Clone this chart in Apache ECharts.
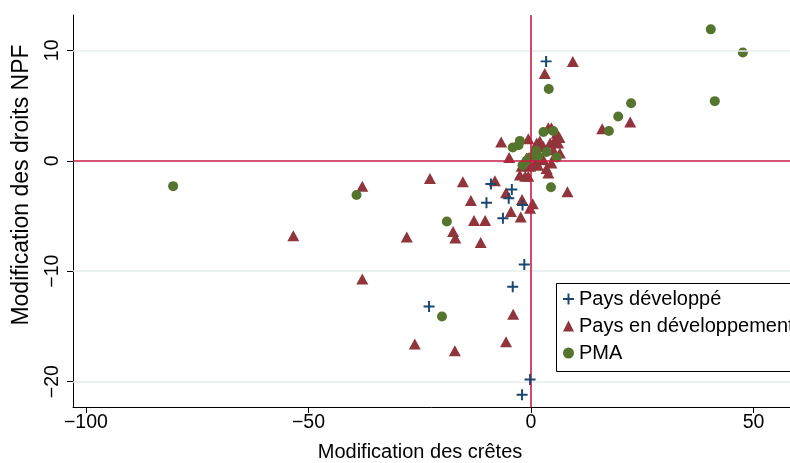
<!DOCTYPE html>
<html>
<head>
<meta charset="utf-8">
<script src="https://cdn.jsdelivr.net/npm/echarts@6/dist/echarts.min.js"></script>
<style>
html,body{margin:0;padding:0;background:#fff;}
#chart{width:790px;height:463px;}
</style>
</head>
<body>
<div id="chart"></div>
<script>
// ---- Data ----
const seriesNames = ['Pays développé', 'Pays en développement', 'PMA'];

const paysDeveloppe = [
  [3.4, 9.0], [-9.0, -2.1], [-4.3, -2.6], [-5.0, -3.4], [-10.0, -3.8], [-1.9, -4.0],
  [-6.3, -5.2], [-1.5, -9.4], [-4.1, -11.4], [-22.9, -13.2], [-0.2, -19.8], [-2.0, -21.2]
];

const paysEnDeveloppement = [
  [9.4, 9.0], [3.1, 7.9], [22.3, 3.5], [16.0, 2.9], [8.2, -2.8],
  [-37.9, -2.3], [-53.4, -6.8], [-37.9, -10.7],
  [-22.7, -1.6], [-15.3, -1.9], [-8.1, -1.8], [-5.6, -2.9], [-13.5, -3.6], [-2.0, -3.5],
  [0.4, -3.9], [-0.2, -4.3], [-4.5, -4.6], [-2.3, -5.1], [-12.8, -5.4], [-10.3, -5.4],
  [-17.5, -6.4], [-17.0, -7.0], [-27.9, -6.9], [-11.3, -7.4],
  [-4.0, -13.9], [-26.1, -16.6], [-5.6, -16.4], [-17.1, -17.2],
  [-1.3, -1.4], [-6.7, 1.7], [-4.9, 0.3], [-0.6, 2.0],
  [2.0, 1.8], [3.9, 3.0], [4.6, 3.0], [5.4, 1.9], [6.1, 1.6], [4.3, 1.6], [2.8, 1.3],
  [1.3, 1.6], [5.0, 1.0], [-1.0, 0.25], [-2.1, -0.5], [-0.2, -0.5], [3.5, -0.7],
  [4.6, -0.2], [3.9, -1.1], [-2.5, -1.3], [-0.6, -1.4], [2.8, 0.1], [0.9, -0.2],
  [6.5, 0.7], [5.8, 2.5], [6.4, 2.1], [1.6, -0.4], [5.4, 0.5]
];

const pma = [
  [40.4, 11.9], [47.6, 9.8], [41.3, 5.4], [22.5, 5.2], [19.6, 4.0], [17.5, 2.7], [4.0, 6.5],
  [-80.4, -2.3], [-39.2, -3.1], [-18.9, -5.5], [-20.0, -14.1], [4.5, -2.4],
  [2.8, 2.6], [5.0, 2.7], [-2.5, 1.8], [-4.1, 1.2], [1.1, 0.9], [3.5, 0.8], [5.8, 0.3],
  [1.6, 0.4], [-0.2, 0.3], [-1.0, 0.0], [-1.9, -0.4], [-2.8, 1.4]
];

const xTicks = [-100, -50, 0, 50];
const yTicks = [-20, -10, 0, 10];
const yGridLines = [-20, -10, 10];
const xRange = [-102.9, 58.2];
const yRange = [-22.3, 13.2];

const xTitle = 'Modification des crêtes';
const yTitle = 'Modification des droits NPF';

// ---- Styles ----
const FONT = '"Liberation Sans", Helvetica, Arial, sans-serif';
const BLUE = '#1a476f', RED = '#90353b', GREEN = '#55752f', REF = '#c81d43';
const CROSS = 'path://M4.1,0H5.9V4.1H10V5.9H5.9V10H4.1V5.9H0V4.1H4.1Z';
const fmt = v => (v < 0 ? '\u2212' + Math.abs(v) : String(v));

const chart = echarts.init(document.getElementById('chart'), null, {renderer: 'canvas'});

chart.setOption({
  animation: false,
  backgroundColor: '#ffffff',
  textStyle: {fontFamily: FONT},
  grid: {left: 73, top: 15, right: 0, bottom: 56, containLabel: false, outerBoundsMode: 'none'},
  xAxis: {
    type: 'value', min: xRange[0], max: xRange[1],
    axisLine: {show: true, onZero: false, lineStyle: {color: '#000', width: 1}},
    axisTick: {show: true, length: 6, customValues: xTicks, lineStyle: {color: '#000'}},
    axisLabel: {show: true, customValues: xTicks, formatter: fmt, fontSize: 19.5, color: '#000', fontFamily: FONT, margin: 6},
    splitLine: {show: false}
  },
  yAxis: {
    type: 'value', min: yRange[0], max: yRange[1],
    axisLine: {show: true, onZero: false, lineStyle: {color: '#000', width: 1}},
    axisTick: {show: true, length: 6, customValues: yTicks, lineStyle: {color: '#000'}},
    axisLabel: {show: true, customValues: yTicks, formatter: fmt, rotate: 90, fontSize: 19.5, color: '#000', fontFamily: FONT, margin: 10},
    splitLine: {show: false}
  },
  legend: {
    orient: 'vertical', left: 556, top: 283, z: 20,
    data: [
      {name: seriesNames[0], icon: CROSS},
      {name: seriesNames[1], icon: 'triangle'},
      {name: seriesNames[2], icon: 'circle'}
    ],
    itemWidth: 11, itemHeight: 11, itemGap: 5,
    padding: [5, 0, 8, 7],
    borderWidth: 0,
    textStyle: {fontSize: 20, color: '#000', fontFamily: FONT, lineHeight: 22, overflow: 'none'}
  },
  graphic: [
    {type: 'rect', z: 15, shape: {x: 556.5, y: 283.5, width: 300, height: 88},
     style: {fill: '#fff', stroke: '#000', lineWidth: 1}},
    {type: 'text', x: 420, y: 452, style: {text: xTitle, fontSize: 20, fontFamily: FONT, fill: '#000', textAlign: 'center', textVerticalAlign: 'middle'}},
    {type: 'text', x: 22, y: 185, rotation: Math.PI / 2, style: {text: yTitle, fontSize: 23, fontFamily: FONT, fill: '#000', textAlign: 'center', textVerticalAlign: 'middle'}}
  ],
  series: [
    {
      type: 'scatter', name: '_grid', data: [], z: 1, silent: true,
      markLine: {
        silent: true, symbol: 'none', label: {show: false}, animation: false,
        lineStyle: {color: '#e6eeef', width: 1.5, type: 'solid'},
        data: yGridLines.map(v => ({yAxis: v}))
      }
    },
    {
      type: 'scatter', name: '_ref', data: [], z: 2, silent: true,
      markLine: {
        silent: true, symbol: 'none', label: {show: false}, animation: false,
        lineStyle: {color: REF, width: 1.6, type: 'solid'},
        data: [{xAxis: 0}, {yAxis: 0}]
      }
    },
    {
      type: 'scatter', name: seriesNames[1], data: paysEnDeveloppement, z: 3,
      symbol: 'triangle', symbolSize: [12, 11],
      itemStyle: {color: RED, opacity: 1}
    },
    {
      type: 'scatter', name: seriesNames[2], data: pma, z: 4,
      symbol: 'circle', symbolSize: 10,
      itemStyle: {color: GREEN, opacity: 1}
    },
    {
      type: 'scatter', name: seriesNames[0], data: paysDeveloppe, z: 5,
      symbol: CROSS, symbolSize: 11,
      itemStyle: {color: BLUE, opacity: 1}
    }
  ]
});
</script>
</body>
</html>
